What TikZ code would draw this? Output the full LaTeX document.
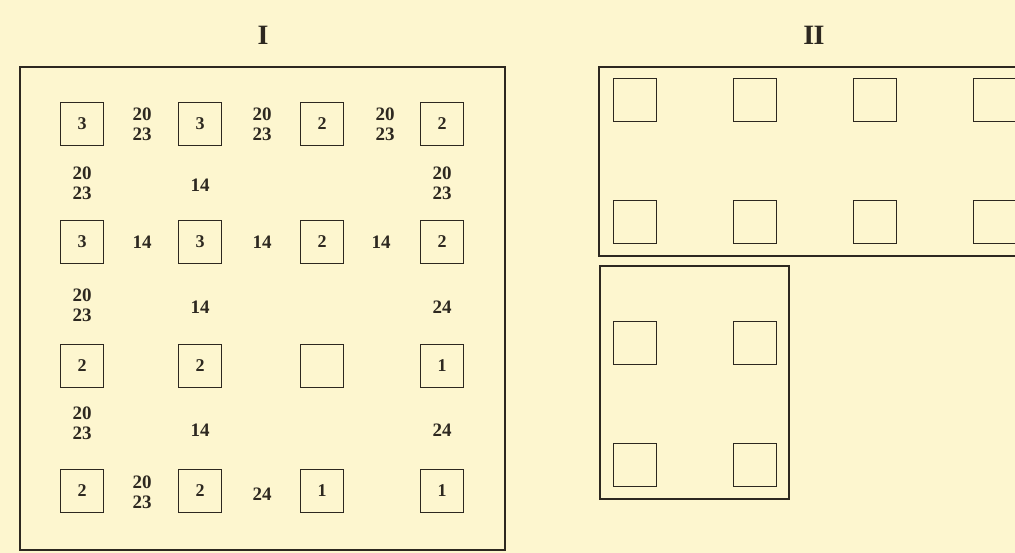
\documentclass[tikz,border=0pt]{standalone}
\usepackage{fontspec}
\setmainfont{Liberation Serif}
\definecolor{paper}{RGB}{253,246,207}
\definecolor{ink}{RGB}{45,40,32}
\tikzset{
  cell/.style={draw=ink, line width=1.6pt, minimum size=43pt, inner sep=0pt,
    text=ink, font=\fontsize{18}{18}\bfseries\selectfont},
  num/.style={align=center, inner sep=0pt, text=ink, font=\fontsize{19}{20}\bfseries\selectfont},
  frame/.style={draw=ink, line width=2pt},
  title/.style={text=ink, font=\fontsize{28}{28}\bfseries\selectfont}
}
\begin{document}
\begin{tikzpicture}[x=1pt, y=-1pt]
    \fill[paper] (0,0) rectangle (1015,553);
    \useasboundingbox (0,0) rectangle (1015,553);
    % panel I
    \node[title] (tI) at (263,35) {I};
    \draw[frame] (20,67) rectangle (505,550);
    \node[cell] (s11) at (82,124) {3};
    \node[cell] (s12) at (200,124) {3};
    \node[cell] (s13) at (322,124) {2};
    \node[cell] (s14) at (442,124) {2};
    \node[cell] (s21) at (82,242) {3};
    \node[cell] (s22) at (200,242) {3};
    \node[cell] (s23) at (322,242) {2};
    \node[cell] (s24) at (442,242) {2};
    \node[cell] (s31) at (82,366) {2};
    \node[cell] (s32) at (200,366) {2};
    \node[cell] (s33) at (322,366) {};
    \node[cell] (s34) at (442,366) {1};
    \node[cell] (s41) at (82,491) {2};
    \node[cell] (s42) at (200,491) {2};
    \node[cell] (s43) at (322,491) {1};
    \node[cell] (s44) at (442,491) {1};
    % numbers between the squares
    \node[num] (n1) at (142,124) {20\\23};
    \node[num] (n2) at (262,124) {20\\23};
    \node[num] (n3) at (385,124) {20\\23};
    \node[num] (n4) at (82,183) {20\\23};
    \node[num] (n5) at (200,185) {14};
    \node[num] (n6) at (442,183) {20\\23};
    \node[num] (n7) at (142,242) {14};
    \node[num] (n8) at (262,242) {14};
    \node[num] (n9) at (381,242) {14};
    \node[num] (n10) at (82,305) {20\\23};
    \node[num] (n11) at (200,307) {14};
    \node[num] (n12) at (442,307) {24};
    \node[num] (n13) at (82,423) {20\\23};
    \node[num] (n14) at (200,430) {14};
    \node[num] (n15) at (442,430) {24};
    \node[num] (n16) at (142,492) {20\\23};
    \node[num] (n17) at (262,494) {24};
    % panel II
    \node[title] (tII) at (814,35) {I\kern-0.6pt I};
    \draw[frame] (599,67) rectangle (1030,256);
    \node[cell] (u11) at (635,100) {};
    \node[cell] (u12) at (755,100) {};
    \node[cell] (u13) at (875,100) {};
    \node[cell] (u14) at (995,100) {};
    \node[cell] (u21) at (635,222) {};
    \node[cell] (u22) at (755,222) {};
    \node[cell] (u23) at (875,222) {};
    \node[cell] (u24) at (995,222) {};
    \draw[frame] (600,266) rectangle (789,499);
    \node[cell] (v11) at (635,343) {};
    \node[cell] (v12) at (755,343) {};
    \node[cell] (v21) at (635,465) {};
    \node[cell] (v22) at (755,465) {};
\end{tikzpicture}
\end{document}
